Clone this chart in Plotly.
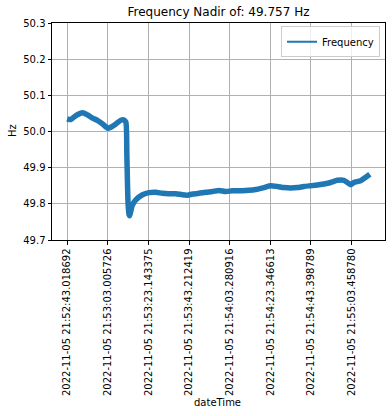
import plotly.graph_objects as go

# seconds since first sample
elapsed_s = [0.0, 1.8, 4.3, 7.6, 10.0, 12.5, 14.9, 17.4, 19.9, 21.5, 24.0, 26.4, 28.0, 28.9,
             29.4, 30.0, 30.5, 30.8, 32.0, 33.8, 37.1, 40.3, 43.6, 46.9, 50.2, 53.5, 56.7,
             59.2, 61.7, 64.9, 68.2, 71.5, 74.7, 78.0, 81.3, 84.6, 87.9, 92.0, 96.9, 100.2,
             103.5, 106.7, 110.0, 113.3, 116.5, 119.8, 123.1, 126.4, 129.7, 133.0, 136.2,
             137.9, 139.5, 141.1, 144.4, 146.8, 149.0]
frequency = [50.035, 50.033, 50.044, 50.052, 50.046, 50.037, 50.031, 50.021, 50.009, 50.012,
             50.021, 50.031, 50.032, 50.026, 49.933, 49.800, 49.770, 49.767, 49.795, 49.811,
             49.825, 49.831, 49.832, 49.829, 49.828, 49.828, 49.825, 49.824, 49.827, 49.829,
             49.832, 49.834, 49.837, 49.834, 49.836, 49.836, 49.837, 49.839, 49.845, 49.850,
             49.848, 49.845, 49.844, 49.845, 49.848, 49.850, 49.852, 49.855, 49.859, 49.865,
             49.865, 49.859, 49.853, 49.859, 49.864, 49.873, 49.882]

tick_pos = [0, 20, 40, 60, 80, 100, 120, 140]
tick_labels = ["2022-11-05 21:52:43.018692", "2022-11-05 21:53:03.005726",
               "2022-11-05 21:53:23.143375", "2022-11-05 21:53:43.212419",
               "2022-11-05 21:54:03.280916", "2022-11-05 21:54:23.346613",
               "2022-11-05 21:54:43.398789", "2022-11-05 21:55:03.458780"]
y_ticks = [49.7, 49.8, 49.9, 50.0, 50.1, 50.2, 50.3]
nadir = 49.757

FONT = "DejaVu Sans"
COLOR = "#1f77b4"
fig = go.Figure()
fig.add_trace(go.Scatter(x=elapsed_s, y=frequency, mode="lines", name="Frequency",
                         showlegend=False, legendgroup="f",
                         line=dict(color=COLOR, width=5.5, shape="spline", smoothing=0.6)))
# legend entry with matplotlib-like thin line sample
fig.add_trace(go.Scatter(x=[None], y=[None], mode="lines", name="Frequency",
                         legendgroup="f", line=dict(color=COLOR, width=1.8)))

axis_common = dict(showline=True, mirror=True, linecolor="black", linewidth=1,
                   ticks="outside", ticklen=3.5, tickcolor="black", tickwidth=1,
                   showgrid=True, gridcolor="#b0b0b0", gridwidth=0.8, zeroline=False,
                   automargin=False,
                   tickfont=dict(family=FONT, size=10, color="black"))

fig.update_xaxes(range=[-7.45, 156.45], tickvals=tick_pos, ticktext=tick_labels,
                 tickangle=-90, **axis_common)
fig.update_yaxes(range=[49.7, 50.3], tickvals=y_ticks,
                 ticktext=[f"{v:.1f}" for v in y_ticks], **axis_common)

fig.update_layout(
    width=392, height=416,
    margin=dict(l=52, r=7, t=23, b=176, pad=0, autoexpand=False),
    paper_bgcolor="white", plot_bgcolor="white",
    font=dict(family=FONT, size=10, color="black"),
    title=dict(text=f"Frequency Nadir of: {nadir} Hz", x=0.5, xref="paper", xanchor="center",
               y=1 - 12 / 416, yref="container", yanchor="middle", automargin=False,
               font=dict(family=FONT, size=12, color="black")),
    showlegend=True,
    legend=dict(x=0.985, xanchor="right", y=0.985, yanchor="top", itemwidth=30,
                bgcolor="rgba(255,255,255,0.8)", bordercolor="#cccccc", borderwidth=1,
                font=dict(family=FONT, size=10, color="black")),
    annotations=[
        dict(text="dateTime", xref="paper", yref="paper", x=0.498, y=-0.751,
             xanchor="center", yanchor="middle", showarrow=False,
             font=dict(family=FONT, size=10, color="black")),
        dict(text="Hz", xref="paper", yref="paper", x=-0.12, y=0.502, textangle=-90,
             xanchor="center", yanchor="middle", showarrow=False,
             font=dict(family=FONT, size=10, color="black")),
    ],
)

fig.write_html("out.html", config={"displayModeBar": False},
               post_script="document.body.style.margin='0';document.body.style.overflow='hidden';")
